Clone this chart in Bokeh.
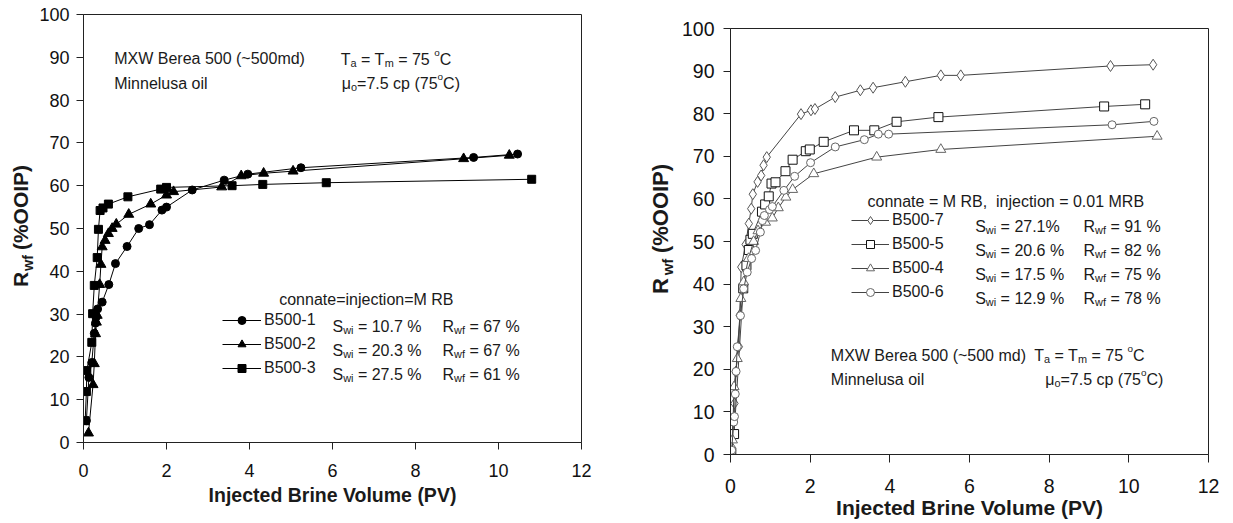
import math
from bokeh.plotting import figure
from bokeh.models import Range1d, FixedTicker, Label, Legend, LegendItem, Spacer
from bokeh.layouts import row, column
from bokeh.embed import file_html
from bokeh.resources import INLINE

FONT = "Liberation Sans"
TXT = "#1a1a1a"

# ---------------- data: left panel (connate = injection = MRB) ----------------
b1_pv = [0.07, 0.13, 0.20, 0.26, 0.29, 0.31, 0.34, 0.45, 0.61, 0.77, 1.05, 1.33, 1.59, 1.89, 2.00, 2.62, 3.39, 3.96, 5.24, 9.40, 10.46]
b1_rf = [5.1, 15.2, 18.7, 25.5, 27.9, 29.4, 31.2, 32.8, 36.9, 41.8, 45.8, 50.0, 50.9, 54.3, 55.0, 59.0, 61.3, 62.7, 64.2, 66.6, 67.4]

b2_pv = [0.12, 0.23, 0.26, 0.29, 0.31, 0.33, 0.39, 0.42, 0.45, 0.52, 0.60, 0.69, 0.79, 1.09, 1.62, 2.00, 2.17, 3.33, 3.80, 4.34, 5.05, 9.16, 10.26]
b2_rf = [2.2, 13.5, 18.4, 25.4, 28.1, 29.7, 36.9, 41.6, 45.7, 47.2, 48.8, 50.0, 51.0, 53.3, 55.7, 57.8, 58.6, 59.7, 62.3, 62.9, 63.4, 66.3, 67.1]

b3_pv = [0.04, 0.07, 0.08, 0.20, 0.22, 0.26, 0.33, 0.36, 0.40, 0.47, 0.60, 1.07, 1.86, 2.00, 3.58, 4.32, 5.85, 10.80]
b3_rf = [5.1, 11.9, 16.8, 23.4, 30.1, 36.7, 43.2, 49.8, 54.2, 54.8, 55.7, 57.4, 59.2, 59.6, 60.0, 60.3, 60.7, 61.5]

left_names = ["B500-1", "B500-2", "B500-3"]
left_swi = ["10.7 %", "20.3 %", "27.5 %"]
left_rwf = ["67 %", "67 %", "61 %"]

# ---------------- data: right panel (connate = MRB, injection = 0.01 MRB) ----------------
b7_pv = [0.02, 0.07, 0.10, 0.13, 0.21, 0.23, 0.27, 0.38, 0.46, 0.52, 0.56, 0.68, 0.77, 0.83, 0.91, 1.77, 2.02, 2.12, 2.63, 3.26, 3.58, 4.39, 5.28, 5.78, 9.54, 10.61]
b7_rf = [1.8, 8.0, 12.0, 19.4, 25.3, 32.7, 44.0, 49.3, 54.2, 57.7, 61.1, 64.0, 65.5, 67.9, 69.8, 79.9, 80.8, 81.1, 83.9, 85.5, 86.1, 87.5, 89.0, 89.0, 91.2, 91.5]

b5_pv = [0.02, 0.09, 0.32, 0.40, 0.46, 0.50, 0.56, 0.79, 0.87, 0.96, 1.03, 1.13, 1.38, 1.56, 1.89, 1.99, 2.34, 3.10, 3.61, 4.17, 5.22, 9.38, 10.41]
b5_rf = [0.5, 4.8, 39.0, 44.4, 48.0, 50.4, 51.8, 57.0, 58.7, 60.6, 63.6, 63.9, 66.5, 69.2, 71.2, 71.6, 73.4, 76.1, 76.1, 78.1, 79.2, 81.7, 82.2]

b4_pv = [0.05, 0.09, 0.17, 0.26, 0.33, 0.45, 0.58, 0.69, 0.88, 1.05, 1.20, 1.39, 1.56, 2.09, 3.67, 5.28, 10.71]
b4_rf = [3.4, 15.9, 22.5, 36.6, 40.5, 46.0, 50.0, 52.5, 54.5, 55.5, 57.9, 60.4, 62.2, 65.9, 69.8, 71.6, 74.7]

b6_pv = [0.03, 0.08, 0.10, 0.12, 0.14, 0.17, 0.25, 0.33, 0.42, 0.53, 0.63, 0.75, 0.80, 0.85, 0.98, 1.05, 1.34, 1.61, 2.01, 2.63, 3.36, 3.71, 3.97, 9.58, 10.63]
b6_rf = [1.0, 7.6, 8.9, 14.2, 19.5, 25.3, 32.6, 38.9, 42.8, 46.0, 47.9, 52.2, 54.9, 56.1, 57.5, 58.2, 62.0, 65.3, 68.5, 72.2, 73.9, 75.2, 75.2, 77.4, 78.2]

right_names = ["B500-7", "B500-5", "B500-4", "B500-6"]
right_swi = ["27.1%", "20.6 %", "17.5 %", "12.9 %"]
right_rwf = ["91 %", "82 %", "75 %", "78 %"]

x_ticks = [0, 2, 4, 6, 8, 10, 12]
y_ticks = [0, 10, 20, 30, 40, 50, 60, 70, 80, 90, 100]

# ---------------- text helpers (Arial / Liberation Sans advance widths) ----------------
AW = {' ': 278, '\u00a0': 278, '%': 889, '(': 333, ')': 333, ',': 278, '-': 333, '.': 278, '=': 584, '~': 584,
      'A': 667, 'B': 667, 'C': 722, 'M': 833, 'R': 722, 'S': 667, 'T': 611, 'W': 944, 'X': 667,
      'a': 556, 'c': 500, 'd': 556, 'e': 556, 'f': 278, 'i': 222, 'j': 222, 'l': 222, 'm': 833,
      'n': 556, 'o': 556, 'p': 556, 'r': 333, 's': 500, 't': 278, 'u': 556, 'w': 722, 'μ': 576}
for d in "0123456789":
    AW[d] = 556


def tw(s, size):
    return sum(AW.get(c, 556) for c in s) * size / 1000.0


def seg_size(kind, size):
    if kind == "sub":
        return size * 0.68, -size * 0.22
    if kind == "sup":
        return size * 0.62, size * 0.42
    return size, 0.0


def rich(p, x, y, parts, size=16.0, color=TXT):
    for txt, kind in parts:
        fs, shift = seg_size(kind, size)
        body = txt.lstrip(" ")
        x += tw(txt[:len(txt) - len(body)], fs)
        body = body.replace("  ", " \u00a0")
        p.add_layout(Label(x=x, y=y + shift, x_units="screen", y_units="screen", text=body,
                           text_font=FONT, text_font_size=f"{fs:.1f}px",
                           text_color=color, text_align="left", text_baseline="alphabetic"))
        x += tw(body, fs)


def make_fig(width, height, bl, br, bt, bb, tick_size):
    p = figure(width=width, height=height, x_range=Range1d(0, 12), y_range=Range1d(0, 100),
               output_backend="svg", toolbar_location=None,
               min_border_left=bl, min_border_right=br, min_border_top=bt, min_border_bottom=bb)
    p.frame_align = False
    p.xgrid.visible = False
    p.ygrid.visible = False
    p.outline_line_color = "#222222"
    p.outline_line_width = 1
    p.background_fill_color = "white"
    p.border_fill_color = "white"
    p.xaxis.ticker = FixedTicker(ticks=x_ticks)
    p.yaxis.ticker = FixedTicker(ticks=y_ticks)
    for ax in (p.xaxis, p.yaxis):
        ax.axis_line_color = "#222222"
        ax.axis_line_width = 1
        ax.major_tick_line_color = "#222222"
        ax.major_tick_in = 0
        ax.minor_tick_line_color = None
        ax.major_label_text_font = FONT
        ax.major_label_text_font_size = tick_size
        ax.major_label_text_color = "#111111"
    p.xaxis.axis_label = "Injected Brine Volume (PV)"
    p.xaxis.axis_label_text_font = FONT
    p.xaxis.axis_label_text_font_style = "bold"
    p.xaxis.axis_label_text_color = TXT
    return p


def piece_fig(width, height, text, size, standoff):
    """A slim figure whose only content is a vertical (native) axis label."""
    f = figure(width=width, height=height, x_range=Range1d(0, 1), y_range=Range1d(0, 1),
               output_backend="svg", toolbar_location=None, x_axis_type=None,
               min_border_left=width - 1, min_border_right=0, min_border_top=0, min_border_bottom=0)
    f.frame_align = False
    f.outline_line_color = None
    f.background_fill_color = "white"
    f.border_fill_color = "white"
    f.ygrid.visible = False
    ax = f.yaxis[0]
    ax.ticker = FixedTicker(ticks=[])
    ax.axis_line_color = None
    ax.major_tick_line_color = None
    ax.minor_tick_line_color = None
    ax.major_tick_out = 0
    ax.major_tick_in = 0
    ax.major_label_standoff = 0
    ax.axis_label = text
    ax.axis_label_text_font = FONT
    ax.axis_label_text_font_style = "bold"
    ax.axis_label_text_font_size = f"{size:.1f}px"
    ax.axis_label_text_color = TXT
    ax.axis_label_standoff = standoff
    return f


def ylabel_col(width, height, size, top, hp, hw, hr, so_main, so_sub):
    # "R" + subscript "wf" + " (%OOIP)", reading bottom to top
    fp = piece_fig(width, hp, "(%OOIP)", size, so_main)
    fw = piece_fig(width, hw, "wf", size * 0.68, so_sub)
    fr = piece_fig(width, hr, "R", size, so_main)
    rest = height - top - hp - hw - hr
    return column(Spacer(width=width, height=top), fp, fw, fr, Spacer(width=width, height=rest))


H = 523

# ================= LEFT PANEL =================  frame: left 81, right 581, top 14, bottom 442
ylab_l = ylabel_col(36, H, 21, 160, 94, 17, 16, 4, 0)
pl = make_fig(604, H, 45, 59, 14, 81, "18px")
pl.xaxis.major_tick_out = 7
pl.yaxis.major_tick_out = 7
pl.xaxis.major_label_standoff = 14
pl.yaxis.major_label_standoff = 7
pl.xaxis.axis_label_text_font_size = "19.5px"
pl.xaxis.axis_label_standoff = 4

left_series = [(b1_pv, b1_rf, "circle", 8), (b2_pv, b2_rf, "triangle", 10), (b3_pv, b3_rf, "square", 8)]
left_items = []
for (xs, ys, mk, sz), nm in zip(left_series, left_names):
    lr = pl.line(xs, ys, line_color="black", line_width=1)
    sr = pl.scatter(xs, ys, marker=mk, size=sz, fill_color="black", line_color="black")
    left_items.append(LegendItem(label=nm, renderers=[lr, sr]))

legl = Legend(items=left_items, location=(139, 64), glyph_width=39, glyph_height=20, label_height=20,
              spacing=4, padding=0, margin=0, label_standoff=3, border_line_color=None,
              background_fill_alpha=0, label_text_font=FONT, label_text_font_size="16px",
              label_text_color=TXT)
pl.add_layout(legl)


def Lc(xo, yo):
    return xo - 81, 442 - yo


rich(pl, *Lc(111.7, 58), [("MXW Berea 500 (~500md)", "n")])
rich(pl, *Lc(111.7, 82.5), [("Minnelusa oil", "n")])
rich(pl, *Lc(338.3, 58.5), [("T", "n"), ("a", "sub"), (" = T", "n"), ("m", "sub"), (" = 75 ", "n"), ("o", "sup"), ("C", "n")])
rich(pl, *Lc(339.3, 82.5), [("μ", "n"), ("o", "sub"), ("=7.5 cp (75", "n"), ("o", "sup"), ("C)", "n")])
rich(pl, *Lc(276.7, 299), [("connate=injection=M RB", "n")])
for i, yb in enumerate([325.7, 349.7, 373.7]):
    rich(pl, *Lc(330, yb), [("S", "n"), ("wi", "sub"), (" = " + left_swi[i], "n")])
    rich(pl, *Lc(440, yb), [("R", "n"), ("wf", "sub"), (" = " + left_rwf[i], "n")])

# ================= RIGHT PANEL =================  frame: left 727, right 1208, top 28, bottom 454
ylab_r = ylabel_col(38, H, 22, 160, 96, 21, 17, 5, 2)
pr = make_fig(550, H, 49, 20, 28, 69, "19.5px")
pr.xaxis.major_tick_out = 8
pr.yaxis.major_tick_out = 7
pr.xaxis.major_label_standoff = 16
pr.yaxis.major_label_standoff = 9
pr.xaxis.axis_label_text_font_size = "21px"
pr.xaxis.axis_label_standoff = 0

right_series = [(b7_pv, b7_rf, "diamond", 11, "#555555"), (b5_pv, b5_rf, "square", 9, "#111111"),
                (b4_pv, b4_rf, "triangle", 10, "#666666"), (b6_pv, b6_rf, "circle", 8, "#666666")]
right_items = []
for (xs, ys, mk, sz, col), nm in zip(right_series, right_names):
    lr = pr.line(xs, ys, line_color="#444444", line_width=1)
    sr = pr.scatter(xs, ys, marker=mk, size=sz, fill_color="white", line_color=col, line_width=1)
    right_items.append(LegendItem(label=nm, renderers=[lr, sr]))

legr = Legend(items=right_items, location=(121, 152), glyph_width=38, glyph_height=20, label_height=20,
              spacing=4, padding=0, margin=0, label_standoff=3, border_line_color=None,
              background_fill_alpha=0, label_text_font=FONT, label_text_font_size="16px",
              label_text_color=TXT)
pr.add_layout(legr)


def Rc(xo, yo):
    return xo - 727, 454 - yo


rich(pr, *Rc(864, 200.5), [("connate = M RB,  injection = 0.01 MRB", "n")])
for i, yb in enumerate([225.7, 249.7, 273.7, 297.7]):
    rich(pr, *Rc(971.7, yb), [("S", "n"), ("wi", "sub"), (" = " + right_swi[i], "n")])
    rich(pr, *Rc(1080, yb), [("R", "n"), ("wf", "sub"), (" = " + right_rwf[i], "n")])
rich(pr, *Rc(827.3, 355), [("MXW Berea 500 (~500 md)", "n")])
rich(pr, *Rc(827.3, 379), [("Minnelusa oil", "n")])
rich(pr, *Rc(1030.7, 355), [("T", "n"), ("a", "sub"), (" = T", "n"), ("m", "sub"), (" = 75 ", "n"), ("o", "sup"), ("C", "n")])
rich(pr, *Rc(1041.7, 379), [("μ", "n"), ("o", "sub"), ("=7.5 cp (75", "n"), ("o", "sup"), ("C)", "n")])

layout = row(ylab_l, pl, ylab_r, pr)
open("out.html", "w").write(file_html(layout, INLINE))
